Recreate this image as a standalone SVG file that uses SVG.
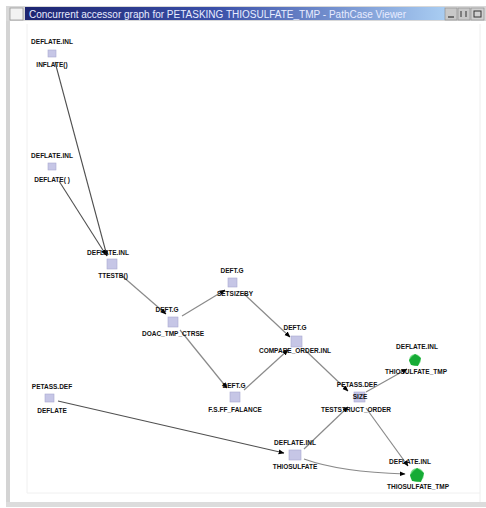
<svg xmlns="http://www.w3.org/2000/svg" width="486" height="508" viewBox="0 0 486 508">
<defs>
<linearGradient id="tb" x1="0" y1="0" x2="1" y2="0">
<stop offset="0" stop-color="#1c2470"/>
<stop offset="0.45" stop-color="#3a4fa8"/>
<stop offset="1" stop-color="#a9cdf2"/>
</linearGradient>
<marker id="ah" viewBox="0 0 10 10" refX="9" refY="5" markerWidth="6" markerHeight="6" orient="auto" markerUnits="userSpaceOnUse">
<path d="M0,1 L10,5 L0,9 z" fill="#000"/>
</marker>
<radialGradient id="gr">
<stop offset="0" stop-color="#0c9a2a"/>
<stop offset="0.7" stop-color="#2cc24a"/>
<stop offset="1" stop-color="#9fe8a8"/>
</radialGradient>
</defs>
<style>
.lbl{font-family:"Liberation Sans",Arial,sans-serif;font-size:6.5px;font-weight:bold;fill:#111;text-anchor:middle}
.sq{fill:#c6c6e6;stroke:#a8a8d0;stroke-width:0.6}
.e{fill:none;stroke:#8a8a8a;stroke-width:1.2;marker-end:url(#ah)}
.ed{fill:none;stroke:#505050;stroke-width:1.1;marker-end:url(#ah)}
.g{fill:url(#gr)}
.ttl{font-family:"Liberation Sans",Arial,sans-serif;font-size:10px;fill:#e8ecff}
</style>
<rect width="486" height="508" fill="#ffffff"/>
<g id="window">
<rect x="6" y="20" width="4" height="486" fill="#d4d4d4"/>
<rect x="6" y="502" width="480" height="5" fill="#dcdcdc"/>
<line x1="27" y1="24" x2="27" y2="493" stroke="#f0f0f0" stroke-width="1"/>
<line x1="27" y1="493" x2="480" y2="493" stroke="#f0f0f0" stroke-width="1"/>
<line x1="480" y1="24" x2="480" y2="502" stroke="#eeeeee" stroke-width="1"/>
<rect x="6" y="6" width="480" height="15" fill="#d8d8d8"/>
<rect x="25" y="7" width="420" height="13" fill="url(#tb)"/>
<rect x="10" y="8" width="13" height="12" fill="#f2f2f2" stroke="#9a9a9a" stroke-width="0.8"/>
<text class="ttl" x="29" y="17.5">Concurrent accessor graph for PETASKING THIOSULFATE_TMP - PathCase Viewer</text>
<rect x="445" y="8" width="12" height="12" fill="#c8c8c8" stroke="#888" stroke-width="0.6"/>
<rect x="458" y="8" width="12" height="12" fill="#c8c8c8" stroke="#888" stroke-width="0.6"/>
<rect x="471" y="8" width="13" height="12" fill="#d0d0d0" stroke="#888" stroke-width="0.6"/>
<rect x="474" y="11" width="7" height="6" fill="none" stroke="#333" stroke-width="1"/>
<line x1="448" y1="17" x2="454" y2="17" stroke="#333" stroke-width="1.2"/>
<line x1="461" y1="11" x2="461" y2="17" stroke="#333" stroke-width="1"/>
<line x1="466" y1="11" x2="466" y2="17" stroke="#333" stroke-width="1"/>
</g>
<g id="connectors">
<line class="ed" x1="55" y1="62" x2="107" y2="256"/>
<line class="ed" x1="59" y1="181" x2="106" y2="255"/>
<line class="e" x1="121" y1="275" x2="166" y2="314"/>
<line class="e" x1="182" y1="316" x2="225" y2="290"/>
<line class="e" x1="180" y1="330" x2="227" y2="388"/>
<line class="e" x1="243" y1="293" x2="290" y2="337"/>
<line class="e" x1="244" y1="390" x2="288" y2="350"/>
<line class="e" x1="305" y1="350" x2="348" y2="391"/>
<line class="e" x1="366" y1="392" x2="407" y2="369"/>
<line class="e" x1="366" y1="408" x2="408" y2="466"/>
<line class="e" x1="304" y1="449" x2="348" y2="407"/>
<path class="e" d="M304,459 Q340,472 405,474"/>
<line class="ed" x1="58" y1="401" x2="284" y2="453"/>
</g>
<g id="n1"><text class="lbl" x="52" y="44">DEFLATE.INL</text><rect class="sq" x="48" y="50" width="8" height="7"/><text class="lbl" x="52" y="67">INFLATE()</text></g>
<g id="n2"><text class="lbl" x="52" y="158">DEFLATE.INL</text><rect class="sq" x="48" y="163" width="8" height="7"/><text class="lbl" x="52" y="182">DEFLATE( )</text></g>
<g id="n3"><text class="lbl" x="108" y="255">DEFLATE.INL</text><rect class="sq" x="107" y="259" width="10" height="10"/><text class="lbl" x="113" y="278">TTESTB()</text></g>
<g id="n4"><text class="lbl" x="167" y="312">DEFT.G</text><rect class="sq" x="168" y="317" width="10" height="10"/><text class="lbl" x="173" y="336">DOAC_TMP_CTRSE</text></g>
<g id="n5"><text class="lbl" x="232" y="273">DEFT.G</text><rect class="sq" x="228" y="278" width="9" height="9"/><text class="lbl" x="235" y="296">SETSIZEBY</text></g>
<g id="n6"><text class="lbl" x="295" y="330">DEFT.G</text><rect class="sq" x="291" y="336" width="11" height="11"/><text class="lbl" x="295" y="353">COMPARE_ORDER.INL</text></g>
<g id="n7"><text class="lbl" x="234" y="388">DEFT.G</text><rect class="sq" x="230" y="392" width="10" height="10"/><text class="lbl" x="235" y="412">F.S.FF_FALANCE</text></g>
<g id="n8"><text class="lbl" x="357" y="387">PETASS.DEF</text><rect class="sq" x="354" y="392" width="11" height="10"/><text class="lbl" x="360" y="399">SIZE</text><text class="lbl" x="356" y="412">TESTSTRUCT_ORDER</text></g>
<g id="n9"><text class="lbl" x="417" y="349">DEFLATE.INL</text><circle class="g" cx="415" cy="360" r="6"/><path d="M409,360 L415,354 L421,358 L418,366 L411,365 z" fill="#16ab36"/><text class="lbl" x="416" y="374">THIOSULFATE_TMP</text></g>
<g id="n10"><text class="lbl" x="295" y="445">DEFLATE.INL</text><rect class="sq" x="289" y="450" width="12" height="10"/><text class="lbl" x="295" y="469">THIOSULFATE</text></g>
<g id="n11"><text class="lbl" x="410" y="464">DEFLATE.INL</text><circle class="g" cx="417" cy="475" r="7"/><path d="M410,475 L417,468 L424,473 L421,482 L412,481 z" fill="#16ab36"/><text class="lbl" x="418" y="489">THIOSULFATE_TMP</text></g>
<g id="n12"><text class="lbl" x="52" y="389">PETASS.DEF</text><rect class="sq" x="45" y="394" width="9" height="8"/><text class="lbl" x="52" y="413">DEFLATE</text></g>
</svg>
